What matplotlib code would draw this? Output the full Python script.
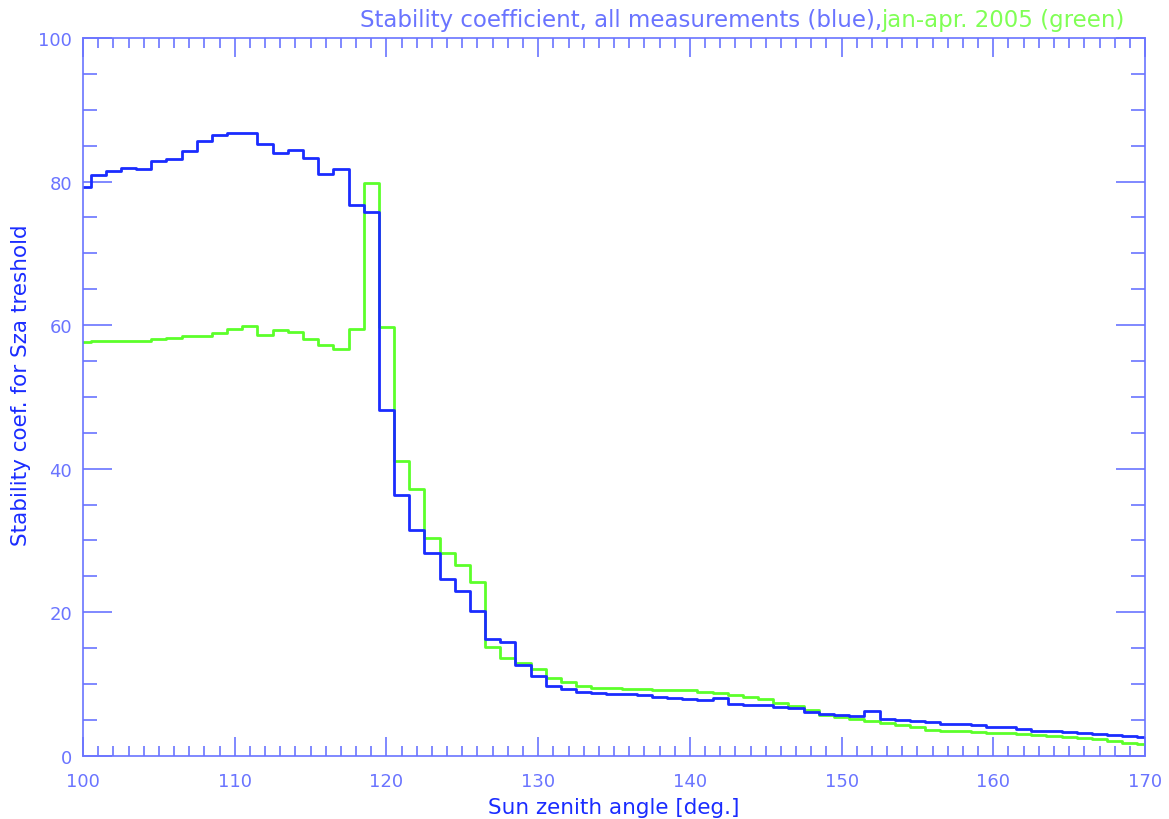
import numpy as np
import matplotlib
matplotlib.use('Agg')
import matplotlib.pyplot as plt
from matplotlib.ticker import MultipleLocator

# sun zenith angle, 1 deg bins
sza = np.arange(100, 171)

# all measurements (blue)
coef_all = [79.2, 80.9, 81.5, 81.9, 81.8, 82.8, 83.1, 84.3, 85.6, 86.5,
            86.8, 86.7, 85.2, 84.0, 84.4, 83.3, 81.1, 81.8, 76.7, 75.7,
            48.1, 36.3, 31.4, 28.2, 24.6, 23.0, 20.1, 16.3, 15.8, 12.7,
            11.1, 9.75, 9.25, 8.9, 8.8, 8.65, 8.55, 8.45, 8.2, 8.0,
            7.85, 7.7, 8.0, 7.25, 7.05, 7.1, 6.8, 6.65, 6.05, 5.85,
            5.67, 5.53, 6.27, 5.11, 4.97, 4.83, 4.7, 4.46, 4.37, 4.28,
            4.04, 4.0, 3.68, 3.49, 3.4, 3.26, 3.16, 3.02, 2.93, 2.74,
            2.65]

# jan-apr 2005 (green)
coef_2005 = [57.7, 57.8, 57.8, 57.8, 57.8, 58.0, 58.2, 58.5, 58.5, 58.9,
             59.4, 59.9, 58.6, 59.3, 59.1, 58.1, 57.2, 56.7, 59.4, 79.8,
             59.8, 41.0, 37.2, 30.4, 28.2, 26.6, 24.2, 15.2, 13.6, 12.9,
             12.1, 10.8, 10.2, 9.75, 9.5, 9.4, 9.3, 9.25, 9.2, 9.15,
             9.15, 8.9, 8.7, 8.45, 8.2, 7.85, 7.35, 6.9, 6.3, 5.67,
             5.35, 5.11, 4.83, 4.51, 4.23, 4.0, 3.62, 3.4, 3.38, 3.26,
             3.16, 3.12, 3.02, 2.93, 2.79, 2.65, 2.47, 2.28, 2.09, 1.77,
             1.67]

axcol = '#6a74ff'
blue = '#1a2cff'
green = '#5cff2a'

fig = plt.figure(figsize=(11.69, 8.20), dpi=100)
ax = fig.add_axes([0.071, 0.0772, 0.9085, 0.8752])

ax.plot(sza, coef_2005, drawstyle='steps-mid', color=green, lw=2)
ax.plot(sza, coef_all, drawstyle='steps-mid', color=blue, lw=2)

ax.set_xlim(100, 170)
ax.set_ylim(0, 100)
ax.xaxis.set_major_locator(MultipleLocator(10))
ax.xaxis.set_minor_locator(MultipleLocator(1))
ax.yaxis.set_major_locator(MultipleLocator(20))
ax.yaxis.set_minor_locator(MultipleLocator(5))

for s in ax.spines.values():
    s.set_color(axcol)
    s.set_linewidth(1.2)
ax.tick_params(axis='both', which='both', direction='in', top=True, right=True,
               color=axcol, labelcolor=axcol, labelsize=13, width=1.2)
ax.tick_params(axis='x', which='major', length=14, pad=12)
ax.tick_params(axis='x', which='minor', length=7)
ax.tick_params(axis='y', which='major', length=21, pad=8)
ax.tick_params(axis='y', which='minor', length=10)

ax.set_xlabel('Sun zenith angle [deg.]', color=blue, fontsize=15.5, labelpad=5)
ax.set_ylabel('Stability coef. for Sza treshold', color=blue, fontsize=15.5)
ax.yaxis.set_label_coords(-0.049, 0.518)

t2 = fig.text(1125 / 1169, 1 - 20 / 820, 'jan-apr. 2005 (green)', color='#80ff55',
              fontsize=16.5, ha='right', va='center')
ax.annotate('Stability coefficient, all measurements (blue),', xy=(0, 0.5),
            xycoords=t2, ha='right', va='center', color=axcol, fontsize=16.5)

fig.savefig('out.png', dpi=100)
